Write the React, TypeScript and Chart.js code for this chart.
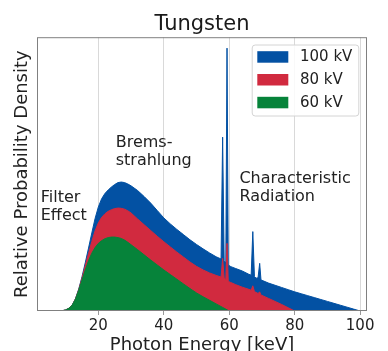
import React, { useEffect, useRef } from "react";
import { Chart, registerables } from "chart.js";

Chart.register(...registerables);

const FONT = "'DejaVu Sans', sans-serif";

const seriesLabels = ["100 kV", "80 kV", "60 kV"];
const seriesColors = ["#0351a3", "#d12a3f", "#06833a"];

const kv100Energy = [1, 8, 9, 10, 11, 12, 13, 14, 15, 16, 17, 18, 19, 20, 21, 22, 23, 24, 25, 26, 27, 28, 29, 30, 32, 34, 36, 38, 40, 42, 44, 46, 48, 50, 52, 54, 56, 57.5, 57.98, 58.45, 58.95, 59.32, 59.7, 60.5, 62, 64, 66, 66.7, 67.2, 67.7, 68.2, 68.8, 69.3, 69.7, 70, 72, 74, 76, 78, 80, 82, 84, 86, 88, 90, 92, 94, 96, 98, 100];
const kv100Density = [0, 0, 0.001, 0.004, 0.01, 0.022, 0.045, 0.08, 0.125, 0.176, 0.23, 0.285, 0.338, 0.38, 0.41, 0.429, 0.442, 0.453, 0.462, 0.469, 0.471, 0.469, 0.464, 0.457, 0.44, 0.418, 0.394, 0.367, 0.34, 0.318, 0.298, 0.279, 0.26, 0.243, 0.227, 0.212, 0.198, 0.19, 0.635, 0.184, 0.175, 0.96, 0.168, 0.162, 0.155, 0.146, 0.134, 0.131, 0.29, 0.126, 0.12, 0.121, 0.174, 0.114, 0.112, 0.102, 0.094, 0.086, 0.078, 0.07, 0.063, 0.056, 0.049, 0.042, 0.035, 0.028, 0.021, 0.014, 0.007, 0];

const kv80Energy = [1, 8, 9, 10, 11, 12, 13, 14, 15, 16, 17, 18, 19, 20, 21, 22, 23, 24, 25, 26, 27, 28, 29, 30, 32, 34, 36, 38, 40, 42, 44, 46, 48, 50, 52, 54, 56, 57.5, 57.98, 58.45, 58.95, 59.32, 59.7, 60.5, 62, 64, 66, 66.7, 67.2, 67.7, 68.8, 69.3, 69.7, 70, 72, 74, 76, 78, 80];
const kv80Density = [0, 0, 0.001, 0.004, 0.01, 0.021, 0.044, 0.078, 0.12, 0.165, 0.21, 0.254, 0.293, 0.322, 0.342, 0.355, 0.364, 0.37, 0.374, 0.376, 0.375, 0.372, 0.366, 0.358, 0.336, 0.315, 0.294, 0.273, 0.253, 0.234, 0.215, 0.197, 0.179, 0.163, 0.15, 0.139, 0.13, 0.124, 0.192, 0.12, 0.115, 0.247, 0.108, 0.104, 0.096, 0.087, 0.079, 0.076, 0.092, 0.071, 0.064, 0.07, 0.058, 0.057, 0.046, 0.035, 0.024, 0.012, 0];

const kv60Energy = [1, 8, 9, 10, 11, 12, 13, 14, 15, 16, 17, 18, 19, 20, 21, 22, 23, 24, 25, 26, 27, 28, 29, 30, 32, 34, 36, 38, 40, 42, 44, 46, 48, 50, 52, 54, 56, 58, 60];
const kv60Density = [0, 0, 0.001, 0.004, 0.01, 0.021, 0.043, 0.076, 0.113, 0.15, 0.184, 0.211, 0.232, 0.247, 0.257, 0.264, 0.268, 0.27, 0.27, 0.268, 0.265, 0.259, 0.251, 0.242, 0.224, 0.205, 0.186, 0.168, 0.15, 0.133, 0.116, 0.099, 0.082, 0.066, 0.052, 0.039, 0.026, 0.013, 0];

const xTickValues = [20, 40, 60, 80, 100];

const annotations = [
  { lines: ["Filter", "Effect"], x: 2.4, y: 0.399 },
  { lines: ["Brems-", "strahlung"], x: 25.3, y: 0.6 },
  { lines: ["Characteristic", "Radiation"], x: 63.1, y: 0.466 },
];

const toPoints = (xs: number[], ys: number[]) => xs.map((x, i) => ({ x, y: ys[i] }));

const framePlugin = {
  id: "frameAndLegend",
  afterDatasetsDraw(chart: any) {
    const { ctx } = chart;
    const xs = chart.scales.x;
    const ys = chart.scales.y;
    ctx.save();
    ctx.fillStyle = "#222222";
    ctx.font = `16px ${FONT}`;
    ctx.textAlign = "left";
    ctx.textBaseline = "alphabetic";
    annotations.forEach((a) => {
      const px = xs.getPixelForValue(a.x);
      const py = ys.getPixelForValue(a.y);
      a.lines.forEach((line, i) => ctx.fillText(line, px, py + i * 17.8));
    });
    ctx.restore();
  },
  afterDraw(chart: any) {
    const { ctx, chartArea } = chart;
    ctx.save();
    ctx.strokeStyle = "#808080";
    ctx.lineWidth = 1;
    ctx.strokeRect(chartArea.left + 0.5, chartArea.top + 0.5, chartArea.right - chartArea.left - 1, chartArea.bottom - chartArea.top - 1);
    const fw = 106.6;
    const fh = 71;
    const fx = chartArea.right - 8.7 - fw;
    const fy = chartArea.top + 7.3;
    ctx.beginPath();
    ctx.roundRect(fx + 0.5, fy + 0.5, fw, fh, 3);
    ctx.fillStyle = "rgba(255,255,255,0.85)";
    ctx.fill();
    ctx.strokeStyle = "#d4d4d4";
    ctx.stroke();
    ctx.font = `15px ${FONT}`;
    ctx.textBaseline = "middle";
    ctx.textAlign = "left";
    chart.data.datasets.forEach((ds: any, i: number) => {
      const sy = fy + 6.7 + i * 22.8;
      ctx.fillStyle = ds.backgroundColor;
      ctx.fillRect(fx + 5.6, sy, 31, 11.5);
      ctx.fillStyle = "#222222";
      ctx.fillText(ds.label, fx + 48.3, sy + 6.2);
    });
    ctx.restore();
  },
};

export default function App() {
  const canvasRef = useRef<HTMLCanvasElement | null>(null);

  useEffect(() => {
    if (!canvasRef.current) return;
    const series = [
      [kv100Energy, kv100Density],
      [kv80Energy, kv80Density],
      [kv60Energy, kv60Density],
    ];
    const chart = new Chart(canvasRef.current, {
      type: "line",
      data: {
        datasets: series.map(([xs, ys], i) => ({
          label: seriesLabels[i],
          data: toPoints(xs, ys),
          borderColor: seriesColors[i],
          backgroundColor: seriesColors[i],
          borderWidth: 1,
          fill: "origin",
          pointRadius: 0,
          tension: 0,
          order: 3 - i,
        })),
      },
      options: {
        responsive: false,
        animation: false,
        devicePixelRatio: 1,
        layout: { padding: { left: 0, right: 21, top: 0, bottom: 0 } },
        plugins: {
          legend: { display: false },
          tooltip: { enabled: false },
          title: {
            display: true,
            text: "Tungsten",
            fullSize: false,
            color: "#1a1a1a",
            font: { family: FONT, size: 21, weight: "normal" },
            padding: { top: 12, bottom: 0 },
          },
        },
        scales: {
          x: {
            type: "linear",
            min: 1.25,
            max: 102.1,
            z: 1,
            afterBuildTicks: (s: any) => {
              s.ticks = xTickValues.map((v) => ({ value: v }));
            },
            afterFit: (s: any) => {
              s.height = 40;
            },
            grid: {
              color: "rgba(170,170,170,0.45)",
              lineWidth: 1,
              drawTicks: true,
              tickLength: 4,
              tickColor: "#999999",
            },
            border: { display: false },
            ticks: {
              autoSkip: false,
              maxRotation: 0,
              padding: 2,
              color: "#222222",
              font: { family: FONT, size: 15 },
            },
            title: {
              display: true,
              text: "Photon Energy [keV]",
              color: "#222222",
              font: { family: FONT, size: 18, lineHeight: 0.6 },
              padding: { top: 0, bottom: 0 },
            },
          },
          y: {
            type: "linear",
            min: 0,
            max: 1,
            grid: { display: false },
            border: { display: false },
            ticks: { display: false },
            afterFit: (s: any) => {
              s.width = 37;
            },
            title: {
              display: true,
              text: "Relative Probability Density",
              color: "#222222",
              font: { family: FONT, size: 18 },
              padding: { top: 12, bottom: 0 },
            },
          },
        },
      },
      plugins: [framePlugin],
    } as any);
    return () => chart.destroy();
  }, []);

  return (
    <canvas
      ref={canvasRef}
      width={388}
      height={351}
      style={{ position: "absolute", left: 0, top: 0, width: 388, height: 351 }}
    />
  );
}
